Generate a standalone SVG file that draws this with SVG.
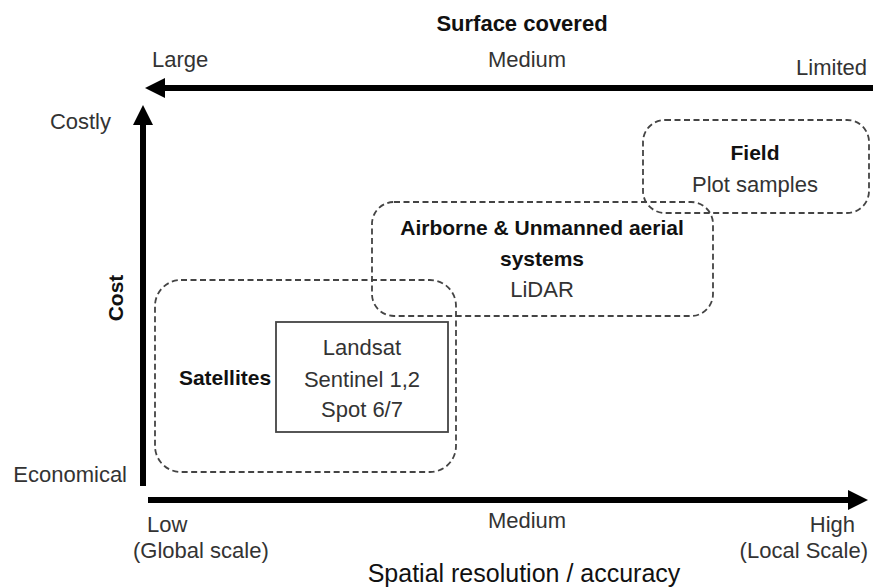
<svg xmlns="http://www.w3.org/2000/svg" width="873" height="588" viewBox="0 0 873 588">
<defs>
<style>
text{font-family:"Liberation Sans",Arial,sans-serif;fill:#333;}
.r{font-size:22px;}
.b{font-size:21px;font-weight:bold;fill:#111;}
.axis{stroke:#000;stroke-width:6;fill:none;}
.dash{fill:none;stroke:#444;stroke-width:1.8;stroke-dasharray:6 3.5;}
.solid{fill:none;stroke:#444;stroke-width:1.8;}
</style>
<marker id="ah" viewBox="0 0 20 20" refX="2" refY="10" markerWidth="20" markerHeight="20" markerUnits="userSpaceOnUse" orient="auto">
<path d="M0,0 L20,10 L0,20 z" fill="#000"/>
</marker>
</defs>
<rect width="873" height="588" fill="#fff"/>
<g id="connectors">
<line class="axis" x1="873" y1="88" x2="163" y2="88" marker-end="url(#ah)"/>
<line class="axis" x1="143" y1="486" x2="143" y2="123" marker-end="url(#ah)"/>
<line class="axis" x1="148" y1="500" x2="850" y2="500" marker-end="url(#ah)"/>
</g>
<g id="axis-labels">
<text class="b" x="522" y="31" text-anchor="middle" style="font-size:22px">Surface covered</text>
<text class="r" x="152" y="67">Large</text>
<text class="r" x="527" y="67" text-anchor="middle">Medium</text>
<text class="r" x="867" y="75" text-anchor="end">Limited</text>
<text class="r" x="111" y="129" text-anchor="end">Costly</text>
<text class="r" x="127" y="482" text-anchor="end">Economical</text>
<text class="b" transform="translate(123,298) rotate(-90)" text-anchor="middle">Cost</text>
<text class="r" x="147" y="532">Low</text>
<text class="r" x="133" y="558">(Global scale)</text>
<text class="r" x="527" y="528" text-anchor="middle">Medium</text>
<text class="r" x="855" y="532" text-anchor="end">High</text>
<text class="r" x="868" y="558" text-anchor="end">(Local Scale)</text>
<text x="524" y="582" text-anchor="middle" style="font-size:25px;fill:#111">Spatial resolution / accuracy</text>
</g>
<g id="field">
<rect class="dash" x="643" y="120" width="226" height="93" rx="22"/>
<text class="b" x="755" y="160" text-anchor="middle">Field</text>
<text class="r" x="755" y="192" text-anchor="middle">Plot samples</text>
</g>
<g id="airborne">
<rect class="dash" x="372" y="202" width="341" height="114" rx="22"/>
<text class="b" x="542" y="235" text-anchor="middle">Airborne &amp; Unmanned aerial</text>
<text class="b" x="542" y="266" text-anchor="middle">systems</text>
<text class="r" x="542" y="297" text-anchor="middle">LiDAR</text>
</g>
<g id="satellites">
<rect class="dash" x="155" y="280" width="301" height="192" rx="26"/>
<text class="b" x="225" y="385" text-anchor="middle">Satellites</text>
</g>
<g id="satellite-products">
<rect class="solid" x="276" y="322" width="172" height="110"/>
<text class="r" x="362" y="355" text-anchor="middle">Landsat</text>
<text class="r" x="362" y="387" text-anchor="middle">Sentinel 1,2</text>
<text class="r" x="362" y="417" text-anchor="middle">Spot 6/7</text>
</g>
</svg>
